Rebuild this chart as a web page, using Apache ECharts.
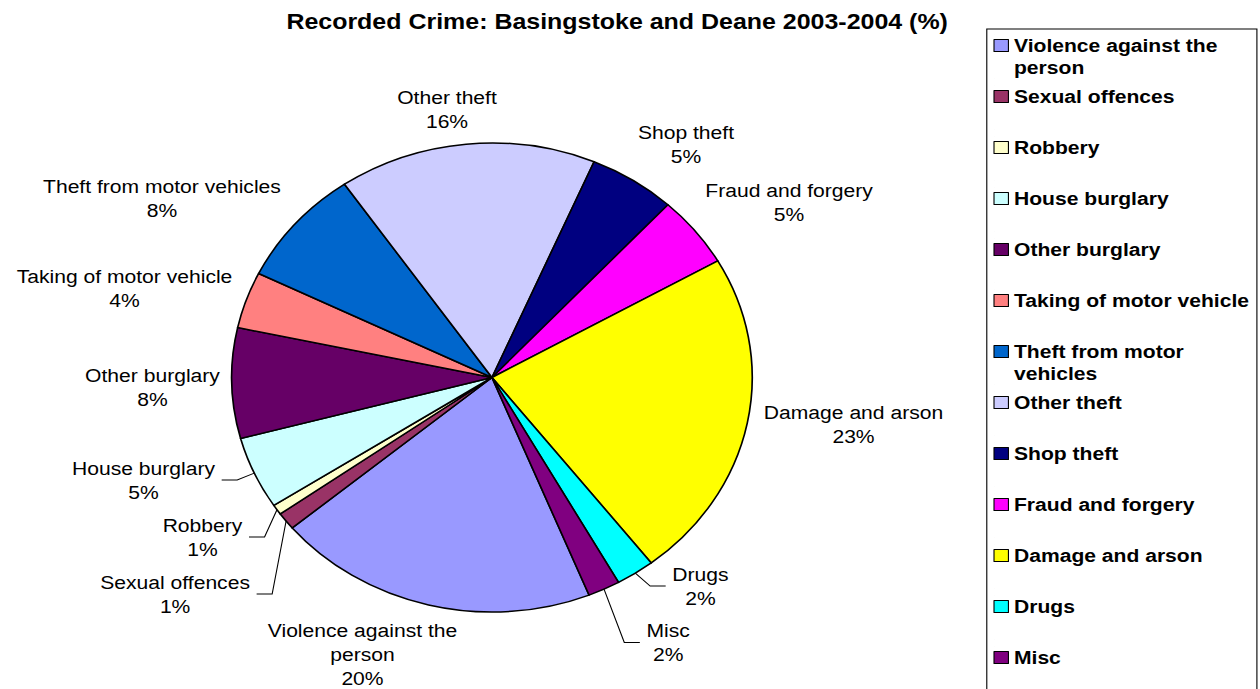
<!DOCTYPE html>
<html>
<head>
<meta charset="utf-8">
<script src="https://cdn.jsdelivr.net/npm/echarts@6/dist/echarts.min.js"></script>
<style>
  html, body { margin: 0; padding: 0; background: #fff; overflow: hidden; }
  #wrap { width: 1260px; height: 689px; overflow: hidden; position: relative; }
  /* the reference picture is horizontally stretched (elliptical pie, wide glyphs) */
  #chart { width: 1135px; height: 689px; transform: scaleX(1.11); transform-origin: 0 0; }
</style>
</head>
<body>
<div id="wrap"><div id="chart"></div></div>
<script>
const chartTitle = 'Recorded Crime: Basingstoke and Deane 2003-2004 (%)';
const categories = [
  'Violence against the person', 'Sexual offences', 'Robbery', 'House burglary',
  'Other burglary', 'Taking of motor vehicle', 'Theft from motor vehicles',
  'Other theft', 'Shop theft', 'Fraud and forgery', 'Damage and arson', 'Drugs', 'Misc'
];
const values = [20.0, 1.2, 0.7, 5.0, 7.6, 3.9, 8.1, 16.0, 5.4, 4.9, 22.8, 2.4, 2.0];

// styles (kept apart from the data)
const colors = ['#9999FF', '#993366', '#FFFFCC', '#CCFFFF', '#660066', '#FF8080', '#0066CC',
                '#CCCCFF', '#000080', '#FF00FF', '#FFFF00', '#00FFFF', '#800080'];
const leaderLine = [false, true, true, true, false, false, false, false, false, false, false, true, true];
const labelOffsets = [[-59.5, 49.6], [-100, 73], [-67.1, 27.3], [-99.8, 6.9], [-71.4, 3.9],
                      [-109.7, -11.9], [-120.1, -25.5], [-17.2, -35.1], [47.7, -35.9],
                      [84.5, -28.6], [95.7, 1.4], [58.7, 12.8], [57.8, 53.3]];
const labelWrap = { 'Violence against the person': 'Violence against the\nperson' };
const legendWrap = {
  'Violence against the person': 'Violence against the\nperson',
  'Theft from motor vehicles': 'Theft from motor\nvehicles'
};
const FONT = "'Liberation Sans', Arial, sans-serif";

const chart = echarts.init(document.getElementById('chart'), null, { renderer: 'svg' });
chart.setOption({
  backgroundColor: '#ffffff',
  animation: false,
  color: colors,
  title: {
    text: chartTitle,
    left: 258, top: 9, padding: 0,
    textStyle: { fontFamily: FONT, fontSize: 22.5, fontWeight: 'bold', color: '#000' }
  },
  legend: {
    orient: 'vertical',
    left: 889, top: 29, height: 720,
    padding: [5, 7, 30, 6],
    itemGap: 6,
    itemWidth: 13, itemHeight: 44,
    icon: 'path://M0,0L0.01,0M0,5L13,5L13,17L0,17ZM0,44L0.01,44',
    itemStyle: { borderColor: '#000', borderWidth: 1 },
    borderColor: '#000', borderWidth: 1,
    backgroundColor: '#fff',
    selectedMode: false,
    // every entry is laid out as two text lines so the marker sits beside the first line
    formatter: n => legendWrap[n] || (n + '\n '),
    textStyle: { fontFamily: FONT, fontSize: 19, fontWeight: 'bold', color: '#000', lineHeight: 22 },
    data: categories
  },
  series: [{
    type: 'pie',
    center: [443.2, 377.5],
    radius: 234.5,
    startAngle: -68.1,
    clockwise: true,
    avoidLabelOverlap: false,
    emphasis: { disabled: true },
    itemStyle: { borderColor: '#000', borderWidth: 1.5 },
    label: {
      show: true,
      position: 'outside',
      color: '#000',
      fontFamily: FONT,
      fontSize: 19,
      lineHeight: 24,
      padding: [0, 6],
      formatter: p => (labelWrap[p.name] || p.name) + '\n' + Math.round(p.percent) + '%'
    },
    labelLine: {
      show: true, length: 15, length2: 14, minTurnAngle: 0,
      lineStyle: { color: '#000', width: 1 }
    },
    labelLayout: function (p) {
      const pts = p.labelLinePoints;
      if (!pts) return {};
      const o = labelOffsets[p.dataIndex];
      return { x: pts[0][0] + o[0], y: pts[0][1] + o[1], align: 'center', verticalAlign: 'middle' };
    },
    data: categories.map((n, i) => ({
      name: n,
      value: values[i],
      labelLine: { lineStyle: { opacity: leaderLine[i] ? 1 : 0 } }
    }))
  }]
});
</script>
</body>
</html>
